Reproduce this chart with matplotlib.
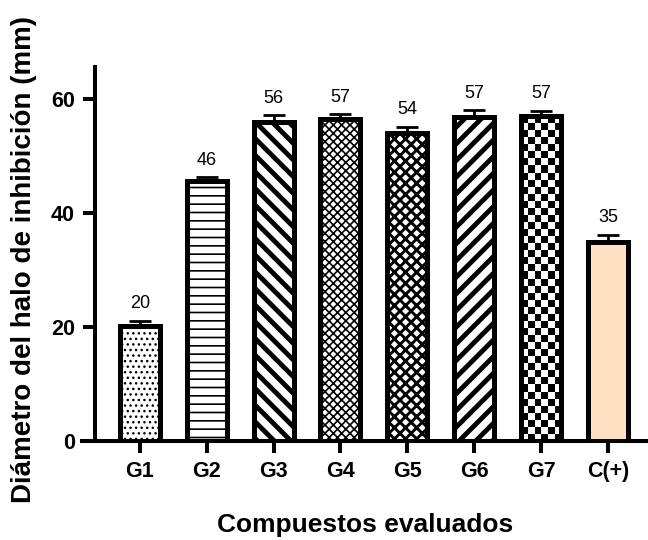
import numpy as np
import matplotlib
matplotlib.use("Agg")
import matplotlib.pyplot as plt

# Inhibition halo diameter by compound group
groups = ["G1", "G2", "G3", "G4", "G5", "G6", "G7", "C(+)"]
means = [20.2, 45.6, 56.0, 56.6, 54.0, 56.9, 57.0, 35.0]
errors = [0.9, 0.7, 1.2, 0.8, 1.2, 1.2, 1.0, 1.2]
yticks = [0, 20, 40, 60]

hatches = ["...", "--", "\\\\", "xxxx", "xxx", "//", "", ""]
hatch_lws = [1.0, 1.2, 3.5, 1.2, 2.1, 3.5, 1.0, 1.0]
faces = ["white"] * 7 + ["#FFE0C2"]

plt.rcParams["font.family"] = ["Liberation Sans", "DejaVu Sans"]

fig = plt.figure(figsize=(6.48, 5.4), dpi=100)
ax = fig.add_axes([82 / 648, 0.1833, 1 - 82 / 648, 0.692])

# axis frame first: moving a spine resets its ticks
for s in ["top", "right"]:
    ax.spines[s].set_visible(False)
for s in ["left", "bottom"]:
    ax.spines[s].set_linewidth(2.9)
ax.spines["left"].set_position(("data", -0.67))

x = np.arange(len(groups))
bars = ax.bar(x, means, width=0.6, color=faces, edgecolor="black",
              linewidth=3.6, zorder=3)
for b, h, hlw in zip(bars, hatches, hatch_lws):
    if h:
        b.set_hatch(h)
        if hasattr(b, "set_hatch_linewidth"):
            b.set_hatch_linewidth(hlw)
        else:
            b._hatch_linewidth = hlw

# checkerboard fill for G7, clipped to its bar
b7 = bars[6]
x0, w = b7.get_x(), b7.get_width()
h7 = b7.get_height()
nx = 6
ny = int(round(h7 / 1.23))
ii, jj = np.indices((ny, nx))
board = ((ii + jj) % 2).astype(float)
im = ax.imshow(board, cmap="gray_r", extent=[x0, x0 + w, 0, h7],
               origin="lower", aspect="auto", interpolation="nearest",
               zorder=2.5, vmin=0, vmax=1)
im.set_clip_path(b7)
b7.set_facecolor("none")

ax.errorbar(x, means, yerr=[np.zeros(len(errors)), errors], fmt="none",
            ecolor="black", elinewidth=2, capsize=8, capthick=2, zorder=2)

for xi, m, e in zip(x, means, errors):
    ax.annotate(f"{m:.0f}", (xi, m + e), xytext=(0, 6),
                textcoords="offset points", ha="center", va="bottom",
                fontsize=13)

ax.set_xlim(-0.865, 7.6)
ax.set_ylim(0, 65.6)
ax.set_xticks(x)
ax.set_xticklabels(groups, fontsize=15.5, fontweight="bold")
ax.set_yticks(yticks)
ax.set_yticklabels([str(t) for t in yticks], fontsize=15.5, fontweight="bold")
ax.tick_params(axis="both", length=8.5, width=2.9, pad=6)

ax.set_ylabel("Diámetro del halo de inhibición (mm)", fontsize=20,
              fontweight="bold")
ax.yaxis.set_label_coords(-0.08, 0.485)
ax.set_xlabel("Compuestos evaluados", fontsize=19, fontweight="bold",
              labelpad=22)

fig.savefig("out.png", dpi=100)
